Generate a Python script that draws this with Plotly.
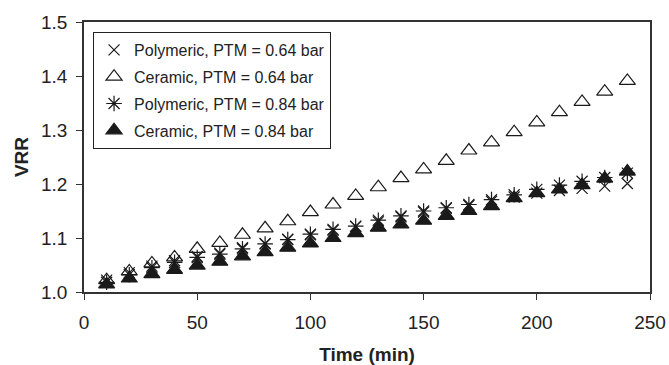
import plotly.graph_objects as go

time_min = [10, 20, 30, 40, 50, 60, 70, 80, 90, 100, 110, 120,
            130, 140, 150, 160, 170, 180, 190, 200, 210, 220, 230, 240]

poly_064 = [1.022, 1.036, 1.048, 1.058, 1.066, 1.072, 1.082, 1.090, 1.098, 1.106, 1.114, 1.121,
            1.130, 1.139, 1.148, 1.155, 1.160, 1.168, 1.176, 1.183, 1.188, 1.192, 1.196, 1.201]
cer_064 = [1.022, 1.038, 1.053, 1.064, 1.080, 1.091, 1.106, 1.118, 1.131, 1.148, 1.162, 1.178,
           1.194, 1.211, 1.227, 1.243, 1.262, 1.277, 1.296, 1.314, 1.333, 1.352, 1.371, 1.391]
poly_084 = [1.018, 1.032, 1.045, 1.055, 1.064, 1.070, 1.080, 1.089, 1.097, 1.107, 1.116, 1.122,
            1.133, 1.141, 1.150, 1.156, 1.162, 1.171, 1.180, 1.190, 1.198, 1.205, 1.212, 1.220]
cer_084 = [1.014, 1.025, 1.033, 1.041, 1.049, 1.056, 1.066, 1.074, 1.082, 1.090, 1.100, 1.109,
           1.119, 1.125, 1.132, 1.141, 1.150, 1.159, 1.174, 1.183, 1.190, 1.198, 1.210, 1.223]

names = ["Polymeric, PTM = 0.64 bar", "Ceramic, PTM = 0.64 bar",
         "Polymeric, PTM = 0.84 bar", "Ceramic, PTM = 0.84 bar"]
series = [poly_064, cer_064, poly_084, cer_084]
symbols = ["x-thin-open", "triangle-up-open", "asterisk-open", "triangle-up"]
sizes = [11, 14, 13, 14]

ink = "#1a1a1a"
font_fam = "Liberation Sans, Arial"
fig = go.Figure()
for i, (nm, ys, sym, sz) in enumerate(zip(names, series, symbols, sizes)):
    fig.add_trace(go.Scatter(
        x=time_min, y=ys, mode="markers", name=nm, legendgroup=f"g{i}",
        marker=dict(symbol=sym, size=sz, color=ink,
                    line=dict(color=ink, width=1.2)),
    ))

axis_common = dict(showgrid=False, zeroline=False, showline=True, linecolor="#333333",
                   linewidth=1.5, mirror=True, ticks="outside", tickcolor="#333333",
                   tickwidth=1.2, ticklen=6, automargin=False,
                   tickfont=dict(family=font_fam, size=19, color="#222222"))

fig.update_xaxes(range=[0, 250], tickvals=[0, 50, 100, 150, 200, 250], ticklabelstandoff=6,
                 title=dict(text="<b>Time (min)</b>", standoff=16,
                            font=dict(family=font_fam, size=19, color="#222222")),
                 **axis_common)
fig.update_yaxes(range=[1.0, 1.5], tickvals=[1.0, 1.1, 1.2, 1.3, 1.4, 1.5], tickformat=".1f",
                 ticklabelstandoff=5,
                 title=dict(text="<b>VRR</b>", standoff=7,
                            font=dict(family=font_fam, size=19, color="#222222")),
                 **axis_common)

fig.update_layout(
    width=669, height=365,
    margin=dict(l=84, r=19, t=22, b=73),
    paper_bgcolor="white", plot_bgcolor="white",
    showlegend=True,
    legend=dict(x=0.016, y=0.963, xanchor="left", yanchor="top",
                bordercolor="#222222", borderwidth=1, bgcolor="white",
                itemwidth=30, tracegroupgap=3,
                font=dict(family=font_fam, size=16, color="#222222")),
)

fig.write_html("out.html", config={"displayModeBar": False},
               post_script="document.body.style.margin='0';")
